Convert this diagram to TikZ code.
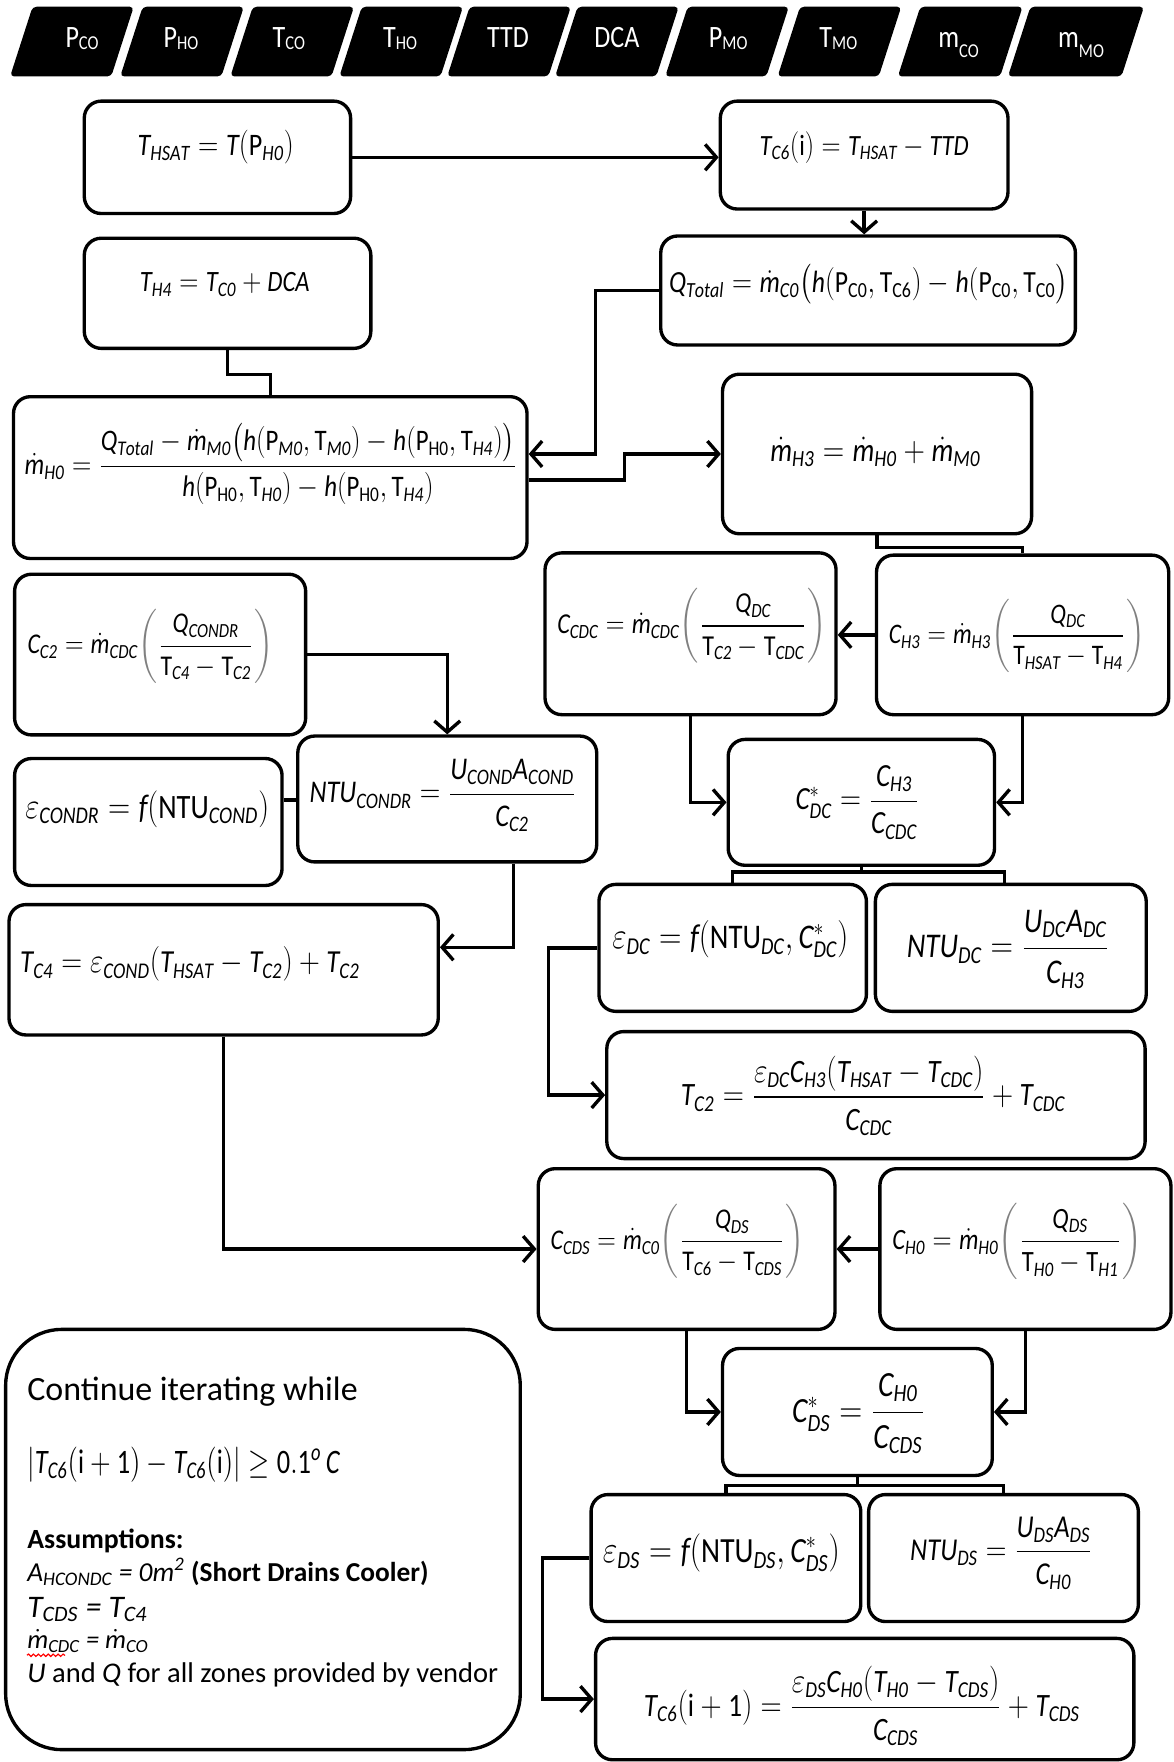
\documentclass[tikz,border=0pt]{standalone}
\usepackage{amsmath}
\usepackage{graphicx}
\usepackage{fontspec}
\setmainfont{Carlito}
\usetikzlibrary{arrows.meta,fit,decorations.pathmorphing}
\newlength\pxu \setlength\pxu{0.02cm}
\newcommand\vI[1]{\mathit{#1}}
\newcommand\vR[1]{\mathrm{#1}}
\newcommand\fw[2]{\scalebox{1}[1.2]{\resizebox{#1\pxu}{!}{#2}}}
\newcommand\fwc[2]{\resizebox{#1\pxu}{!}{#2}}
\newcommand\gpar[1]{{\color{gray}\left(\vphantom{#1}\right.}#1{\color{gray}\left.\vphantom{#1}\right)}}
\newcommand\labA[2]{#1\raisebox{-1pt}{\fontsize{9.5}{9.5}\selectfont #2}}
\newcommand\labB[2]{#1\raisebox{-5pt}{\fontsize{9.5}{9.5}\selectfont #2}}
\newcommand\md{\dot{\vI{m}}}
\tikzset{
  box/.style={draw, line width=1.7pt, rounded corners=0.3cm, inner sep=0pt, fit={#1}},
  ft/.style={inner sep=0pt, font=\fontsize{16}{19}\selectfont},
  ct/.style={inner sep=0pt, anchor=base west, font=\fontsize{14}{17}\selectfont},
  toplab/.style={inner sep=0pt, anchor=base, text=white, font=\fontsize{15}{18}\selectfont},
  arr/.style={line width=1.7pt, -{Straight Barb[length=0.2cm,width=0.46cm]}},
  ln/.style={line width=1.7pt},
}
\begin{document}
\begin{tikzpicture}[x=0.02cm, y=-0.02cm]
\fill[white] (0,0) rectangle (1044,1568);
\useasboundingbox (0,0) rectangle (1044,1568);

% top input parallelograms
\foreach \qa/\qw/\qx/\qt [count=\i] in {
  29/90/73/{\labA{P}{CO}},
  127/90/161/{\labA{P}{HO}},
  225/90/257/{\labA{T}{CO}},
  322/90/356/{\labA{T}{HO}},
  418/90/452/{TTD},
  514/90/549/{DCA},
  612/90/648/{\labA{P}{MO}},
  712/90/746/{\labA{T}{MO}},
  819/91/853/{\labB{m}{CO}},
  917/101/962/{\labB{m}{MO}}}{
  \fill[black, rounded corners=2pt] (\qa,6) -- ({\qa+\qw},6) -- ({\qa+\qw-20},68) -- ({\qa-20},68) -- cycle;
  \node[toplab] (in\i) at (\qx,42) {\scalebox{0.88}[1.05]{\qt}};
}

% boxes
\node[box={(75,90) (312,190)}] (thsat) {};
\node[box={(641,90) (897,186)}] (tc6) {};
\node[box={(75,212) (330,310)}] (th4) {};
\node[box={(588,210) (957,307)}] (qtot) {};
\node[box={(12,353) (469,497)}] (mh0) {};
\node[box={(643,333) (918,475)}] (mh3) {};
\node[box={(13,511) (272,654)}] (cc2) {};
\node[box={(485,492) (744,636)}] (ccdc) {};
\node[box={(780,494) (1040,636)}] (ch3) {};
\node[box={(13,675) (251,788)}] (epsc) {};
\node[box={(265,655) (531,767)}] (ntuc) {};
\node[box={(648,658) (885,770)}] (cdcs) {};
\node[box={(8,805) (390,921)}] (tc4) {};
\node[box={(533,787) (771,900)}] (epsdc) {};
\node[box={(779,787) (1020,900)}] (ntudc) {};
\node[box={(540,918) (1019,1031)}] (tc2) {};
\node[box={(479,1040) (743,1183)}] (ccds) {};
\node[box={(783,1040) (1042,1183)}] (ch0) {};
\node[box={(643,1200) (883,1313)}] (cdss) {};
\node[box={(526,1330) (766,1443)}] (epsds) {};
\node[box={(773,1330) (1013,1443)}] (ntuds) {};
\node[box={(530,1458) (1009,1566)}] (tc6n) {};
\node[box={(5,1183) (463,1557)}, rounded corners=1cm] (cont) {};

% formulas
\node[ft] (f1) at (192,131) {\fw{139}{$\vI{T}_{\vI{HSAT}}=\vI{T}(\vR{P}_{\vI{H0}})$}};
\node[ft] (f2) at (769,131) {\fw{186}{$\vI{T}_{\vI{C6}}(\vR{i})=\vI{T}_{\vI{HSAT}}-\vI{TTD}$}};
\node[ft] (f3) at (200,253) {\fw{151}{$\vI{T}_{\vI{H4}}=\vI{T}_{\vI{C0}}+\vI{DCA}$}};
\node[ft] (f4) at (773,253) {\fw{355}{$\vI{Q}_{\vI{Total}}=\md_{\vI{C0}}\bigl(\vI{h}(\vR{P}_{\vR{C0}},\vR{T}_{\vR{C6}})-\vI{h}(\vR{P}_{\vR{C0}},\vR{T}_{\vR{C0}}\bigr)$}};
\node[ft] (f5) at (241,413) {\fw{438}{$\md_{\vI{H0}}=\dfrac{\vI{Q}_{\vI{Total}}-\md_{\vI{M0}}\bigl(\vI{h}(\vR{P}_{\vI{M0}},\vR{T}_{\vI{M0}})-\vI{h}(\vR{P}_{\vR{H0}},\vR{T}_{\vI{H4}})\bigr)}{\vI{h}(\vR{P}_{\vR{H0}},\vR{T}_{\vI{H0}})-\vI{h}(\vR{P}_{\vR{H0}},\vR{T}_{\vI{H4}})}$}};
\node[ft] (f6) at (779,402) {\fw{187}{$\md_{\vI{H3}}=\md_{\vI{H0}}+\md_{\vI{M0}}$}};
\node[ft] (f7) at (134,575) {\fw{219}{$\vI{C}_{\vI{C2}}=\md_{\vI{CDC}}\gpar{\dfrac{\vI{Q}_{\vI{CONDR}}}{\vR{T}_{\vI{C4}}-\vR{T}_{\vI{C2}}}}$}};
\node[ft] (f8) at (616,557) {\fw{240}{$\vI{C}_{\vI{CDC}}=\md_{\vI{CDC}}\gpar{\dfrac{\vI{Q}_{\vI{DC}}}{\vR{T}_{\vI{C2}}-\vR{T}_{\vI{CDC}}}}$}};
\node[ft] (f9) at (905,566) {\fw{228}{$\vI{C}_{\vI{H3}}=\md_{\vI{H3}}\gpar{\dfrac{\vI{Q}_{\vI{DC}}}{\vR{T}_{\vI{HSAT}}-\vR{T}_{\vI{H4}}}}$}};
\node[ft] (f10) at (131,720) {\fw{217}{$\varepsilon_{\vI{CONDR}}=\vI{f}(\vR{NTU}_{\vI{COND}})$}};
\node[ft] (f11) at (394,708) {\fw{237}{$\vI{NTU}_{\vI{CONDR}}=\dfrac{\vI{U}_{\vI{COND}}\vI{A}_{\vI{COND}}}{\vI{C}_{\vI{C2}}}$}};
\node[ft] (f12) at (763,714) {\fw{110}{$\vI{C}^{*}_{\vI{DC}}=\dfrac{\vI{C}_{\vI{H3}}}{\vI{C}_{\vI{CDC}}}$}};
\node[ft] (f13) at (169,858) {\fw{302}{$\vI{T}_{\vI{C4}}=\varepsilon_{\vI{COND}}(\vI{T}_{\vI{HSAT}}-\vI{T}_{\vI{C2}})+\vI{T}_{\vI{C2}}$}};
\node[ft] (f14) at (650,836) {\fw{210}{$\varepsilon_{\vI{DC}}=\vI{f}(\vR{NTU}_{\vI{DC}},\vI{C}^{*}_{\vI{DC}})$}};
\node[ft] (f15) at (897,845) {\fw{180}{$\vI{NTU}_{\vI{DC}}=\dfrac{\vI{U}_{\vI{DC}}\vI{A}_{\vI{DC}}}{\vI{C}_{\vI{H3}}}$}};
\node[ft] (f16) at (777,975) {\fw{342}{$\vI{T}_{\vI{C2}}=\dfrac{\varepsilon_{\vI{DC}}\vI{C}_{\vI{H3}}(\vI{T}_{\vI{HSAT}}-\vI{T}_{\vI{CDC}})}{\vI{C}_{\vI{CDC}}}+\vI{T}_{\vI{CDC}}$}};
\node[ft] (f17) at (603,1105) {\fw{226}{$\vI{C}_{\vI{CDS}}=\md_{\vI{C0}}\gpar{\dfrac{\vI{Q}_{\vI{DS}}}{\vR{T}_{\vI{C6}}-\vR{T}_{\vI{CDS}}}}$}};
\node[ft] (f18) at (905,1105) {\fw{222}{$\vI{C}_{\vI{H0}}=\md_{\vI{H0}}\gpar{\dfrac{\vI{Q}_{\vI{DS}}}{\vR{T}_{\vI{H0}}-\vR{T}_{\vI{H1}}}}$}};
\node[ft] (f19) at (764,1258) {\fw{118}{$\vI{C}^{*}_{\vI{DS}}=\dfrac{\vI{C}_{\vI{H0}}}{\vI{C}_{\vI{CDS}}}$}};
\node[ft] (f20) at (642,1382) {\fw{211}{$\varepsilon_{\vI{DS}}=\vI{f}(\vR{NTU}_{\vI{DS}},\vI{C}^{*}_{\vI{DS}})$}};
\node[ft] (f21) at (891,1382) {\fw{162}{$\vI{NTU}_{\vI{DS}}=\dfrac{\vI{U}_{\vI{DS}}\vI{A}_{\vI{DS}}}{\vI{C}_{\vI{H0}}}$}};
\node[ft] (f22) at (767,1518) {\fw{388}{$\vI{T}_{\vI{C6}}(\vR{i}+\vR{1})=\dfrac{\varepsilon_{\vI{DS}}\vI{C}_{\vI{H0}}(\vI{T}_{\vI{H0}}-\vI{T}_{\vI{CDS}})}{\vI{C}_{\vI{CDS}}}+\vI{T}_{\vI{CDS}}$}};

% continue box text
\node[ct] (c1) at (24,1246) {\fwc{294}{Continue iterating while}};
\node[ct] (c2) at (24,1311) {\scalebox{1}[1.3]{\fwc{278}{$\left|\vI{T}_{\vI{C6}}(\vR{i}+\vR{1})-\vI{T}_{\vI{C6}}(\vR{i})\right|\geq \vR{0.1}^{\vI{o}}\,\vI{C}$}}};
\node[ct] (c3) at (24,1378) {\fwc{139}{\textbf{Assumptions:}}};
\node[ct] (c4) at (24,1407) {\fwc{357}{\textit{A\textsubscript{HCONDC} = 0m\textsuperscript{2}} \textbf{(Short Drains Cooler)}}};
\node[ct] (c5) at (24,1439) {\fwc{107}{\textit{T\textsubscript{CDS} = T\textsubscript{C4}}}};
\node[ct] (c6) at (24,1467) {\fwc{108}{\textit{$\md$\textsubscript{CDC} = $\md$\textsubscript{CO}}}};
\node[ct] (c7) at (24,1497) {\fwc{419}{\textit{U} and \textit{Q} for all zones provided by vendor}};
\draw[red, line width=0.6pt, decorate, decoration={snake, amplitude=0.6pt, segment length=2.5pt}] (c6.base west) ++(0,6) -- ++(34,0);

% connectors
\draw[arr] (thsat.east) -- (thsat.east -| tc6.west);
\draw[arr] (tc6.south) -- (tc6.south |- qtot.north);
\draw[arr] (qtot.west) -| (530,404) -- (mh0.east |- 530,404);
\draw[arr] (mh0.east |- 0,427) -| (556,404) -- (mh3.west |- 0,404);
\draw[ln] (th4.south) |- (mh0.north |- 0,333) -- (mh0.north);
\draw[ln] (mh3.south) |- (ch3.north |- 0,487) -- (ch3.north);
\draw[arr] (ch3.west) -- (ch3.west -| ccdc.east);
\draw[arr] (cc2.east) -| (ntuc.north);
\draw[ln] (epsc.east |- 0,712) -- (ntuc.west |- 0,712);
\draw[arr] (ntuc.south -| 457,0) |- (tc4.east |- 0,843);
\draw[arr] (ccdc.south) |- (cdcs.west);
\draw[arr] (ch3.south) |- (cdcs.east);
\draw[ln] (cdcs.south) -- (cdcs.south |- 0,776);
\draw[ln] (epsdc.north) |- (894,776) -- (ntudc.north -| 894,0);
\draw[arr] (epsdc.west) -| (tc2.west -| 488,0) -- (tc2.west);
\draw[arr] (tc4.south) |- (ccds.west);
\draw[arr] (ch0.west) -- (ch0.west -| ccds.east);
\draw[arr] (ccds.south) |- (cdss.west);
\draw[arr] (ch0.south) |- (cdss.east);
\draw[ln] (cdss.south) -- (cdss.south |- 0,1322);
\draw[ln] (epsds.north) |- (ntuds.north |- 0,1322) -- (ntuds.north);
\draw[arr] (epsds.west) -| (tc6n.west -| 483,0) -- (tc6n.west);
\end{tikzpicture}
\end{document}
